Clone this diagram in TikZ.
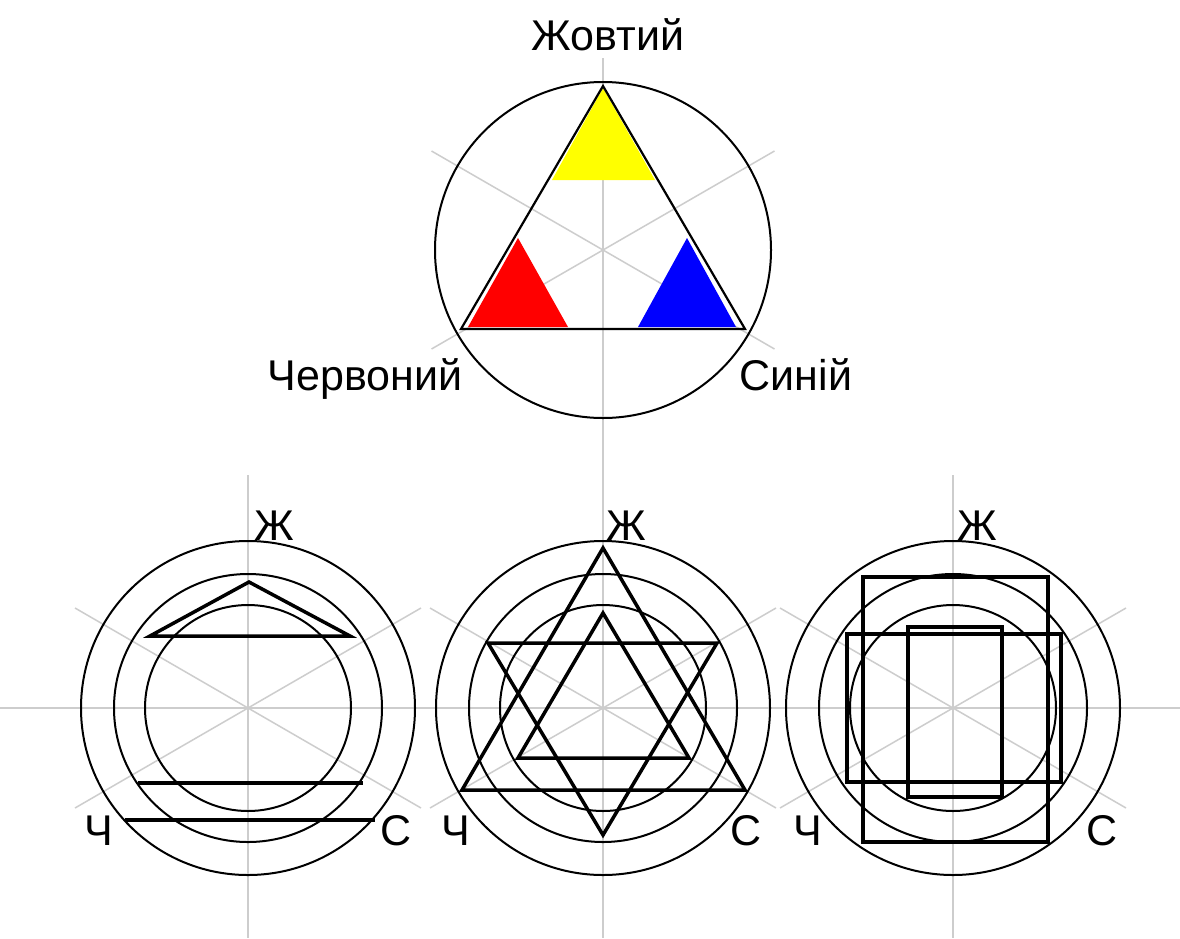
\documentclass[tikz,border=0pt]{standalone}
\usepackage{fontspec}
\setmainfont{Liberation Sans}
\definecolor{guidegray}{RGB}{205,205,205}
\definecolor{ylw}{RGB}{255,255,0}
\definecolor{rd}{RGB}{255,0,0}
\definecolor{bl}{RGB}{0,0,255}
\begin{document}
\begin{tikzpicture}[x=1pt,y=-1pt,
  guide/.style={draw=guidegray, line width=1.5pt},
  ring/.style={draw=black, line width=2pt},
  fig/.style={draw=black, line width=3.5pt, line join=miter},
  lbl/.style={font=\fontsize{43}{50}\selectfont, inner sep=0pt, anchor=base}]
\useasboundingbox (0,0) rectangle (1180,938);
\fill[white] (0,0) rectangle (1180,938);
% ---------- guides ----------
\draw[guide] (603,58) -- (603,938);
\draw[guide] (431.5,151) -- (774.5,349);
\draw[guide] (431.5,349) -- (774.5,151);
\draw[guide] (0,708) -- (1180,708);
\foreach \cx in {248,603,953}{
  \draw[guide] (\cx-173,608) -- (\cx+173,808);
  \draw[guide] (\cx-173,808) -- (\cx+173,608);
}
\draw[guide] (248,475) -- (248,938);
\draw[guide] (953,475) -- (953,938);
% ---------- top figure ----------
\fill[ylw] (603,88) -- (552,180) -- (655,180) -- cycle;
\fill[rd] (518,238) -- (468,327) -- (568,327) -- cycle;
\fill[bl] (687,238) -- (638,327) -- (736,327) -- cycle;
\draw[black, line width=2.2pt, line join=miter] (603,86) -- (461,329) -- (745,329) -- cycle;
\draw[ring] (603,250) circle[radius=168pt];
\node[lbl] (zh) at (608,50) {Жовтий};
\node[lbl] (ch) at (365,390) {Червоний};
\node[lbl] (sy) at (796,390) {Синій};
% ---------- rings ----------
\foreach \cx in {248,603,953}{
  \draw[ring] (\cx,708) circle[radius=167pt];
  \draw[ring] (\cx,708) circle[radius=134pt];
  \draw[ring] (\cx,708) circle[radius=103pt];
}
% ---------- left figure ----------
\draw[fig] (150,636) -- (249,582) -- (350,636) -- cycle;
\draw[fig] (138,783) -- (363,783);
\draw[fig] (125,820) -- (375,820);
% ---------- middle figure ----------
\draw[fig] (603,548) -- (462,790) -- (745,790) -- cycle;
\draw[fig] (488,643) -- (717,643) -- (603,835) -- cycle;
\draw[fig] (603,613) -- (518,758) -- (689,758) -- cycle;
% ---------- right figure ----------
\draw[fig] (863,577) rectangle (1048,842);
\draw[fig] (847,634) rectangle (1061,782);
\draw[fig] (908,627) rectangle (1002,797);
% ---------- labels ----------
\node[lbl] (zhA) at (274,540) {Ж};
\node[lbl] (zhB) at (626,540) {Ж};
\node[lbl] (zhC) at (977,540) {Ж};
\node[lbl] (chA) at (99,845) {Ч};
\node[lbl] (chB) at (456,845) {Ч};
\node[lbl] (chC) at (808,845) {Ч};
\node[lbl] (sA) at (396,845) {С};
\node[lbl] (sB) at (746,845) {С};
\node[lbl] (sC) at (1102,845) {С};
\end{tikzpicture}
\end{document}
